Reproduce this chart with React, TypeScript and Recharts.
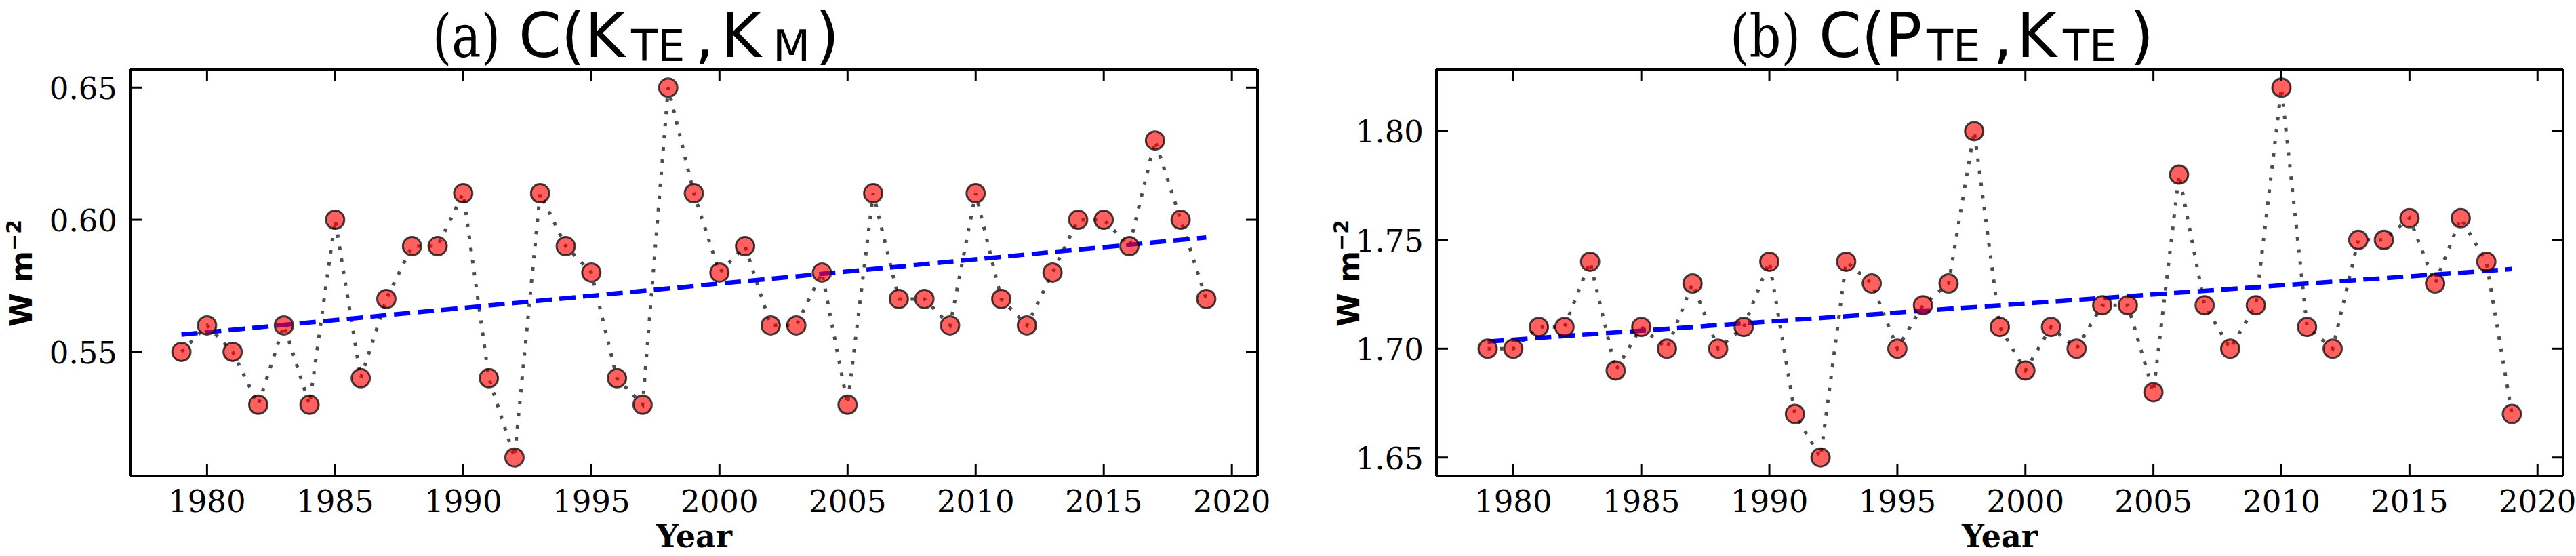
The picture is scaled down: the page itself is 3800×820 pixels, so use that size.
import React from "react"
import { LineChart, Line, XAxis, YAxis } from "recharts"

const years = [
  1979, 1980, 1981, 1982, 1983, 1984, 1985, 1986, 1987, 1988, 1989, 1990, 1991, 1992,
  1993, 1994, 1995, 1996, 1997, 1998, 1999, 2000, 2001, 2002, 2003, 2004, 2005, 2006,
  2007, 2008, 2009, 2010, 2011, 2012, 2013, 2014, 2015, 2016, 2017, 2018, 2019,
]

// (a) C(K_TE, K_M)
const valuesA = [
  0.55, 0.56, 0.55, 0.53, 0.56, 0.53, 0.6, 0.54, 0.57, 0.59, 0.59, 0.61, 0.54, 0.51,
  0.61, 0.59, 0.58, 0.54, 0.53, 0.65, 0.61, 0.58, 0.59, 0.56, 0.56, 0.58, 0.53, 0.61,
  0.57, 0.57, 0.56, 0.61, 0.57, 0.56, 0.58, 0.6, 0.6, 0.59, 0.63, 0.6, 0.57,
]

// (b) C(P_TE, K_TE)
const valuesB = [
  1.7, 1.7, 1.71, 1.71, 1.74, 1.69, 1.71, 1.7, 1.73, 1.7, 1.71, 1.74, 1.67, 1.65,
  1.74, 1.73, 1.7, 1.72, 1.73, 1.8, 1.71, 1.69, 1.71, 1.7, 1.72, 1.72, 1.68, 1.78,
  1.72, 1.7, 1.72, 1.82, 1.71, 1.7, 1.75, 1.75, 1.76, 1.73, 1.76, 1.74, 1.67,
]

// linear trend end points
const trendYears = [1979, 2019]
const trendA = [0.5565, 0.5933]
const trendB = [1.7033, 1.7366]

const yearTicks = [1980, 1985, 1990, 1995, 2000, 2005, 2010, 2015, 2020]
const ticksA = [0.55, 0.6, 0.65]
const ticksB = [1.65, 1.7, 1.75, 1.8]

const yearDomain = [1977, 2021]
const domainA = [0.503, 0.657]
const domainB = [1.6415, 1.8285]

const W = 1900
const H = 820
const TOP = 102
const BOTTOM = 702
const TICK = 17

function Panel({ values, trend, yTicks, yDomain, left, right }) {
  const plotLeft = left
  const plotRight = W - right
  const rows = years.map((year, i) => ({ year, value: values[i] }))
  const trendRows = trendYears.map((year, i) => ({ year, trend: trend[i] }))

  const xTick = (props: any) => {
    const { x, payload, index } = props
    return (
      <g key={`xt-${index}`}>
        <line x1={x} x2={x} y1={BOTTOM} y2={BOTTOM - TICK} stroke="#000" strokeWidth={3} />
        <line x1={x} x2={x} y1={TOP} y2={TOP + TICK} stroke="#000" strokeWidth={3} />
        <text x={x} y={755} textAnchor="middle" fontFamily="DejaVu Serif" fontSize={45} fill="#000">
          {payload.value}
        </text>
      </g>
    )
  }

  const yTick = (props: any) => {
    const { y, payload, index } = props
    return (
      <g key={`yt-${index}`}>
        <line x1={plotLeft} x2={plotLeft + TICK} y1={y} y2={y} stroke="#000" strokeWidth={3} />
        <line x1={plotRight} x2={plotRight - TICK} y1={y} y2={y} stroke="#000" strokeWidth={3} />
        <text x={plotLeft - 19} y={y + 17} textAnchor="end" fontFamily="DejaVu Serif" fontSize={45} fill="#000">
          {Number(payload.value).toFixed(2)}
        </text>
      </g>
    )
  }

  const marker = (p: any) => (
    <circle
      key={`m-${p.index}`}
      cx={p.cx}
      cy={p.cy}
      r={13.5}
      fill="#ff0000"
      fillOpacity={0.62}
      stroke="#000"
      strokeOpacity={0.72}
      strokeWidth={3}
    />
  )

  const frame = { stroke: "#000", strokeWidth: 4 }

  // axes are 1px thick so they still render; margins are reduced to match
  return (
    <LineChart
      width={W}
      height={H}
      data={rows}
      margin={{ top: TOP - 1, right: right - 1, bottom: H - BOTTOM - 1, left: left - 1 }}
    >
      <XAxis
        xAxisId="b"
        dataKey="year"
        type="number"
        domain={yearDomain}
        ticks={yearTicks}
        interval={0}
        height={1}
        axisLine={frame}
        tickLine={false}
        tick={xTick}
      />
      <XAxis xAxisId="t" orientation="top" type="number" domain={yearDomain} height={1} axisLine={frame} tickLine={false} tick={false} />
      <YAxis
        yAxisId="l"
        type="number"
        domain={yDomain}
        ticks={yTicks}
        interval={0}
        width={1}
        axisLine={frame}
        tickLine={false}
        tick={yTick}
      />
      <YAxis yAxisId="r" orientation="right" type="number" domain={yDomain} width={1} axisLine={frame} tickLine={false} tick={false} />
      <Line
        xAxisId="b"
        yAxisId="l"
        dataKey="value"
        type="linear"
        stroke="#4d4d4d"
        strokeWidth={5}
        strokeDasharray="5 13"
        dot={marker}
        activeDot={false}
        isAnimationActive={false}
      />
      <Line
        xAxisId="b"
        yAxisId="l"
        data={trendRows}
        dataKey="trend"
        type="linear"
        stroke="#0000ff"
        strokeWidth={6.5}
        strokeDasharray="24 11"
        dot={false}
        activeDot={false}
        isAnimationActive={false}
      />
    </LineChart>
  )
}

const serif = "DejaVu Serif"
const sans = "DejaVu Sans"

// title pieces: text, x, baseline, size, family, fitted length
const titleA = [
  ["(a)", 638, 84, 88, serif, 100],
  ["C(K", 765, 84, 90, sans, 0],
  ["TE", 931, 90, 64, sans, 0],
  [",", 1025, 84, 90, sans, 0],
  ["K", 1064, 84, 90, sans, 0],
  ["M", 1140, 90, 64, sans, 0],
  [")", 1203, 84, 90, sans, 0],
]
const titleB = [
  ["(b)", 2552, 84, 88, serif, 104],
  ["C(P", 2683, 84, 90, sans, 0],
  ["TE", 2842, 90, 64, sans, 0],
  [",", 2940, 84, 90, sans, 0],
  ["K", 2975, 84, 90, sans, 0],
  ["TE", 3043, 90, 64, sans, 0],
  [")", 3142, 84, 90, sans, 0],
]

function Title({ pieces }) {
  return (
    <g>
      {pieces.map(([t, x, y, size, family, len], i) => (
        <text
          key={i}
          x={x}
          y={y}
          fontFamily={family}
          fontSize={size}
          fill="#000"
          {...(len ? { textLength: len, lengthAdjust: "spacingAndGlyphs" } : {})}
        >
          {t}
        </text>
      ))}
    </g>
  )
}

function Labels() {
  return (
    <svg width={3800} height={820} style={{ position: "absolute", left: 0, top: 0, pointerEvents: "none" }}>
      <Title pieces={titleA} />
      <Title pieces={titleB} />

      {/* y labels */}
      {[47, 2005].map((x) => (
        <text
          key={x}
          transform={`translate(${x},403) rotate(-90)`}
          textAnchor="middle"
          fontFamily={sans}
          fontWeight="bold"
          fontSize={45}
          fill="#000"
        >
          W m<tspan dy={-16} fontSize={30}>−2</tspan>
        </text>
      ))}

      {/* x labels */}
      {[1024, 2950].map((x) => (
        <text key={x} x={x} y={807} textAnchor="middle" fontFamily={serif} fontWeight="bold" fontSize={46} fill="#000">
          Year
        </text>
      ))}
    </svg>
  )
}

export default function App() {
  return (
    <div style={{ position: "absolute", left: 0, top: 0, width: 3800, height: 820, background: "#fff" }}>
      <div style={{ display: "flex" }}>
        <Panel values={valuesA} trend={trendA} yTicks={ticksA} yDomain={domainA} left={192} right={45} />
        <Panel values={valuesB} trend={trendB} yTicks={ticksB} yDomain={domainB} left={219} right={19} />
      </div>
      <Labels />
    </div>
  )
}
